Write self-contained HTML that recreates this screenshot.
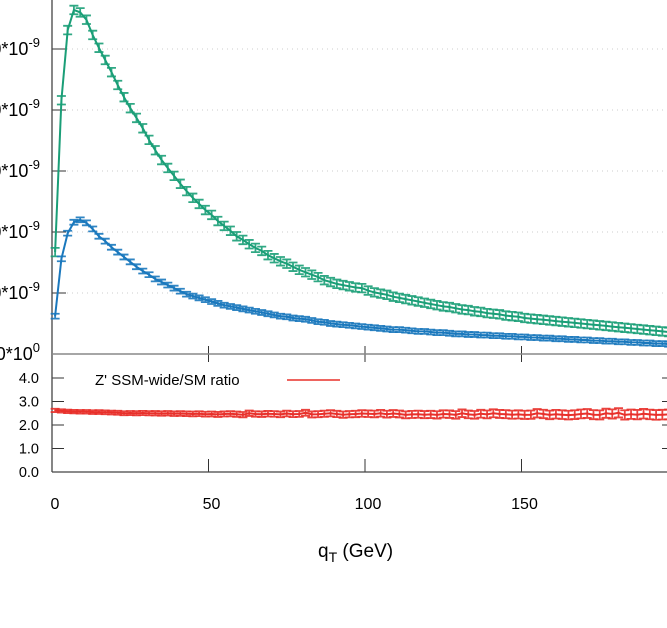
<!DOCTYPE html>
<html><head><meta charset="utf-8"><style>
html,body{margin:0;padding:0;background:#fff;}
svg{display:block;font-family:"Liberation Sans",sans-serif;}
</style></head><body>
<svg id="chart" width="667" height="628" viewBox="0 0 667 628" xmlns="http://www.w3.org/2000/svg"></svg>
<script>
const qtCenters = [];
for (let i = 0; i < 100; i++) qtCenters.push(1 + 2 * i);
const greenValues = [1.67,4.16,5.31,5.64,5.60,5.48,5.23,5.02,4.82,4.62,4.41,4.21,4.03,3.87,3.70,3.51,3.34,3.18,3.05,2.92,2.79,2.67,2.56,2.46,2.36,
2.28,2.18,2.10,2.02,1.93,1.87,1.80,1.74,1.69,1.62,1.57,1.52,1.48,1.43,1.38,1.34,1.30,1.26,1.21,1.18,1.15,1.13,1.11,1.09,1.08,
1.04,1.01,0.99,0.97,0.94,0.92,0.90,0.88,0.86,0.84,0.82,0.80,0.78,0.77,0.75,0.73,0.72,0.70,0.69,0.67,0.66,0.65,0.63,0.62,0.61,
0.59,0.58,0.57,0.56,0.55,0.54,0.53,0.52,0.51,0.50,0.49,0.48,0.47,0.46,0.45,0.44,0.43,0.42,0.41,0.40,0.39,0.38,0.37,0.36,0.35];
const blueValues = [0.62,1.56,1.98,2.16,2.20,2.15,2.05,1.93,1.85,1.75,1.67,1.59,1.51,1.43,1.36,1.30,1.23,1.18,1.13,1.08,1.03,0.98,0.95,0.92,0.89,
0.86,0.83,0.80,0.78,0.76,0.74,0.72,0.70,0.68,0.66,0.64,0.62,0.61,0.59,0.58,0.57,0.55,0.53,0.52,0.50,0.49,0.48,0.47,0.46,0.45,
0.44,0.43,0.42,0.41,0.40,0.40,0.39,0.38,0.37,0.37,0.36,0.35,0.35,0.34,0.33,0.33,0.32,0.32,0.31,0.31,0.30,0.30,0.29,0.29,0.28,
0.28,0.27,0.27,0.26,0.26,0.25,0.25,0.24,0.24,0.23,0.23,0.22,0.22,0.21,0.21,0.20,0.20,0.19,0.19,0.18,0.18,0.17,0.17,0.16,0.16];
const ratioValues = [2.62,2.60,2.58,2.57,2.56,2.56,2.55,2.55,2.54,2.53,2.52,2.50,2.51,2.50,2.51,2.50,2.50,2.49,2.50,2.48,2.49,2.48,2.47,2.48,2.46,
2.47,2.45,2.47,2.48,2.46,2.44,2.50,2.47,2.46,2.48,2.47,2.45,2.49,2.46,2.47,2.52,2.45,2.46,2.48,2.50,2.47,2.44,2.46,2.47,2.49,
2.48,2.47,2.50,2.46,2.49,2.47,2.43,2.45,2.46,2.44,2.45,2.43,2.47,2.46,2.43,2.50,2.45,2.43,2.48,2.45,2.50,2.47,2.46,2.44,2.45,
2.43,2.44,2.50,2.47,2.43,2.46,2.44,2.42,2.44,2.47,2.49,2.44,2.43,2.50,2.47,2.52,2.43,2.46,2.44,2.48,2.45,2.43,2.44,2.45,2.43];
const greenErrors = 0.07, blueErrors = 0.04;
const ratioErrors = [];
for (let i = 0; i < 100; i++) ratioErrors.push(0.07 + 0.14 * i / 99);
const topTickLabels = ["0.0*10^0","1.0*10^-9","2.0*10^-9","3.0*10^-9","4.0*10^-9","5.0*10^-9"];
const topTickValues = [0,1,2,3,4,5];
const ratioTickValues = [0,1,2,3,4];
const ratioTickLabels = ["0.0","1.0","2.0","3.0","4.0"];
const xTickValues = [0,50,100,150,200];
const xTickLabels = ["0","50","100","150","200"];

const NS = "http://www.w3.org/2000/svg";
const svg = document.getElementById("chart");
const X0 = 52, XS = 3.13;
const sx = v => X0 + v * XS;
const syTop = v => 354 - v * 61;
const syRat = v => 472 - v * 23.5;
function mk(tag, attrs, parent) {
  const e = document.createElementNS(NS, tag);
  for (const k in attrs) e.setAttribute(k, attrs[k]);
  (parent || svg).appendChild(e);
  return e;
}
topTickValues.forEach((v, i) => {
  if (v > 0) {
    const g = mk("line", {x1: X0, x2: 667, y1: syTop(v), y2: syTop(v), stroke: "#ccc", "stroke-dasharray": "1,4", "stroke-width": 1});
    
    
  }
  const tk = mk("line", {x1: X0, x2: X0 + 14, y1: syTop(v), y2: syTop(v), stroke: "#333", "stroke-width": 1});
  
  
  const t = mk("text", {x: 40, y: syTop(v) + 6, "text-anchor": "end", "font-size": 18, fill: "#000"});
  const parts = topTickLabels[i].split("^");
  t.textContent = parts[0];
  const sup = mk("tspan", {dy: -8, "font-size": 13}, t);
  sup.textContent = parts[1];
  
  
});
ratioTickValues.forEach((v, i) => {
  const tk = mk("line", {x1: X0, x2: X0 + 12, y1: syRat(v), y2: syRat(v), stroke: "#333"});
  
  
  const tr = mk("line", {x1: 662, x2: 667, y1: syRat(v), y2: syRat(v), stroke: "#333"});
  
  
  const t = mk("text", {x: 39, y: syRat(v) + 5, "text-anchor": "end", "font-size": 14.5, fill: "#000"});
  t.textContent = ratioTickLabels[i];
  
  
});
xTickValues.forEach((v, i) => {
  const a = mk("line", {x1: sx(v), x2: sx(v), y1: 354, y2: 362, stroke: "#333"});
  
  
  const b = mk("line", {x1: sx(v), x2: sx(v), y1: 472, y2: 459, stroke: "#333"});
  
  
  const c = mk("line", {x1: sx(v), x2: sx(v), y1: 354, y2: 346, stroke: "#333"});
  
  
  const t = mk("text", {x: sx(v) + 3, y: 509, "text-anchor": "middle", "font-size": 16, fill: "#000"});
  t.textContent = xTickLabels[i];
  
  
});
const ax1 = mk("line", {x1: X0, x2: X0, y1: 0, y2: 472, stroke: "#444", "stroke-width": 1.3});


const ax2 = mk("line", {x1: X0, x2: 667, y1: 354, y2: 354, stroke: "#888", "stroke-width": 1.5});


const ax3 = mk("line", {x1: X0, x2: 667, y1: 472, y2: 472, stroke: "#444", "stroke-width": 1.3});



function series(vals, errs, sy, color, name) {
  const g = mk("g", {});
  
  
  let d = "";
  vals.forEach((v, i) => {
    const x = sx(qtCenters[i]);
    d += (i ? "L" : "M") + x.toFixed(1) + "," + sy(v).toFixed(1);
  });
  const p = mk("path", {d, fill: "none", stroke: color, "stroke-width": 2}, g);
  
  
  vals.forEach((v, i) => {
    const e = Array.isArray(errs) ? errs[i] : errs;
    const x = sx(qtCenters[i]);
    const y1 = sy(v + e), y2 = sy(v - e);
    const eb = mk("path", {d: `M${x},${y1}V${y2}M${x-4.5},${y1}H${x+4.5}M${x-4.5},${y2}H${x+4.5}`, stroke: color, "stroke-width": 1.8, fill: "none", opacity: 0.9}, g);
    
    
  });
}
series(greenValues, greenErrors, syTop, "#1a9e77", "zprime-series");
series(blueValues, blueErrors, syTop, "#1a78bd", "sm-series");
series(ratioValues, ratioErrors, syRat, "#e8302a", "ratio-series");

const lt = mk("text", {x: 95, y: 385, "font-size": 15, fill: "#000"});
lt.textContent = "Z' SSM-wide/SM ratio";


const ll = mk("line", {x1: 287, x2: 340, y1: 380, y2: 380, stroke: "#e8302a", "stroke-width": 1.5});



const xt = mk("text", {x: 318, y: 557, "font-size": 19, fill: "#000"});
xt.textContent = "q";
const sub = mk("tspan", {dy: 5, "font-size": 14}, xt);
sub.textContent = "T";
const rest = mk("tspan", {dy: -5}, xt);
rest.textContent = " (GeV)";


</script>
</body></html>
